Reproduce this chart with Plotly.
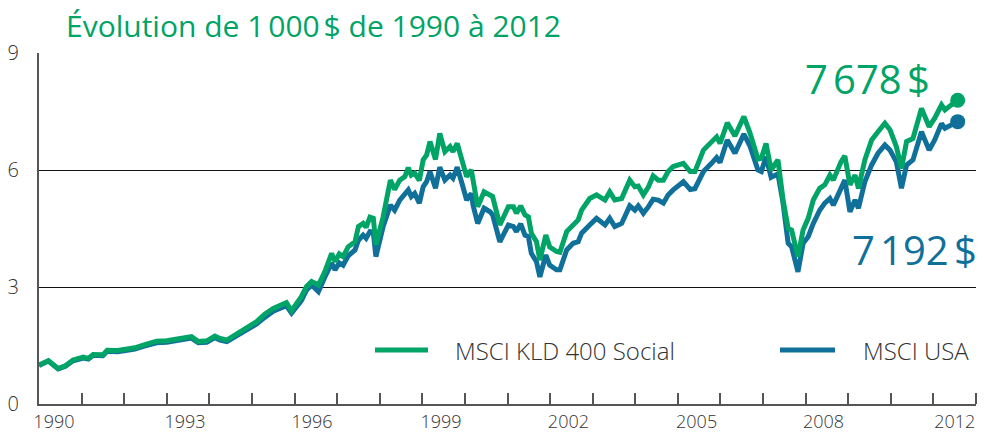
import plotly.graph_objects as go

# ---- data ----
t = [1990.00, 1990.22, 1990.45, 1990.62, 1990.80, 1991.04, 1991.16, 1991.27, 1991.50, 1991.60,
     1991.85, 1992.06, 1992.25, 1992.45, 1992.76, 1993.00, 1993.23, 1993.40, 1993.58, 1993.74,
     1993.94, 1994.13, 1994.25, 1994.41, 1994.72, 1994.90, 1995.11, 1995.30, 1995.50, 1995.81,
     1995.93, 1996.16, 1996.28, 1996.40, 1996.56, 1996.71, 1996.87, 1996.95, 1997.05, 1997.14,
     1997.26, 1997.42, 1997.50, 1997.61, 1997.68, 1997.77, 1997.85, 1997.91, 1998.08, 1998.25,
     1998.35, 1998.47, 1998.59, 1998.67, 1998.74, 1998.82, 1998.93, 1999.02, 1999.10, 1999.18,
     1999.31, 1999.41, 1999.53, 1999.65, 1999.72, 1999.82, 1999.92, 2000.04, 2000.15, 2000.19,
     2000.30, 2000.45, 2000.59, 2000.65, 2000.82, 2001.02, 2001.14, 2001.21, 2001.31, 2001.41,
     2001.49, 2001.56, 2001.68, 2001.76, 2001.90, 2001.99, 2002.15, 2002.23, 2002.39, 2002.54,
     2002.66, 2002.74, 2002.93, 2003.09, 2003.29, 2003.40, 2003.52, 2003.68, 2003.87, 2003.99,
     2004.07, 2004.19, 2004.31, 2004.42, 2004.54, 2004.66, 2004.77, 2004.89, 2005.13, 2005.29,
     2005.40, 2005.60, 2005.79, 2005.91, 2005.99, 2006.16, 2006.34, 2006.55, 2006.69, 2006.88,
     2006.96, 2007.07, 2007.19, 2007.35, 2007.47, 2007.59, 2007.67, 2007.82, 2007.94, 2008.06,
     2008.18, 2008.33, 2008.45, 2008.57, 2008.65, 2008.83, 2008.92, 2009.04, 2009.16, 2009.24,
     2009.39, 2009.55, 2009.70, 2009.86, 2009.98, 2010.13, 2010.25, 2010.37, 2010.52, 2010.72,
     2010.90, 2011.03, 2011.19, 2011.27, 2011.42, 2011.57]

kld = [1.00, 1.11, 0.91, 0.98, 1.13, 1.20, 1.17, 1.27, 1.26, 1.38,
       1.37, 1.40, 1.44, 1.51, 1.61, 1.62, 1.66, 1.69, 1.73, 1.60,
       1.62, 1.74, 1.68, 1.64, 1.85, 1.98, 2.11, 2.30, 2.45, 2.60,
       2.39, 2.75, 3.01, 3.14, 3.05, 3.39, 3.86, 3.65, 3.85, 3.78,
       4.03, 4.16, 4.55, 4.63, 4.53, 4.79, 4.76, 4.08, 4.80, 5.74,
       5.50, 5.74, 5.83, 6.06, 5.87, 5.92, 5.73, 6.26, 6.38, 6.73,
       6.27, 6.94, 6.47, 6.60, 6.47, 6.68, 6.30, 5.83, 6.00, 5.70,
       5.06, 5.44, 5.36, 5.32, 4.59, 5.06, 5.06, 4.89, 5.08, 4.85,
       4.80, 4.38, 4.16, 3.69, 4.33, 4.03, 3.91, 3.89, 4.42, 4.59,
       4.72, 4.97, 5.27, 5.36, 5.23, 5.44, 5.23, 5.27, 5.74, 5.57,
       5.59, 5.36, 5.57, 5.85, 5.74, 5.74, 5.96, 6.09, 6.17, 5.96,
       5.96, 6.51, 6.73, 6.85, 6.68, 7.21, 6.87, 7.37, 6.96, 6.28,
       6.30, 6.68, 6.00, 6.26, 5.23, 4.50, 4.46, 3.78, 4.46, 4.76,
       5.23, 5.53, 5.62, 5.87, 5.74, 6.21, 6.36, 5.62, 5.87, 5.53,
       6.26, 6.77, 6.98, 7.20, 7.03, 6.60, 6.04, 6.73, 6.81, 7.58,
       7.11, 7.33, 7.67, 7.54, 7.67, 7.79]

usa = [0.99, 1.10, 0.90, 0.97, 1.11, 1.18, 1.15, 1.25, 1.24, 1.35,
       1.34, 1.37, 1.41, 1.48, 1.57, 1.58, 1.62, 1.65, 1.69, 1.57,
       1.58, 1.70, 1.64, 1.60, 1.80, 1.93, 2.05, 2.22, 2.38, 2.52,
       2.33, 2.65, 2.92, 3.05, 2.88, 3.25, 3.61, 3.44, 3.62, 3.56,
       3.80, 3.95, 4.20, 4.33, 4.25, 4.42, 4.40, 3.78, 4.55, 5.10,
       4.97, 5.23, 5.36, 5.49, 5.32, 5.40, 5.15, 5.57, 5.70, 5.96,
       5.53, 6.07, 5.74, 5.87, 5.79, 6.07, 5.70, 5.23, 5.40, 5.10,
       4.63, 5.02, 4.93, 4.85, 4.16, 4.59, 4.55, 4.42, 4.62, 4.33,
       4.29, 3.86, 3.65, 3.26, 3.82, 3.56, 3.44, 3.44, 3.95, 4.12,
       4.16, 4.38, 4.59, 4.76, 4.59, 4.76, 4.55, 4.63, 5.08, 4.97,
       5.08, 4.89, 5.06, 5.25, 5.23, 5.15, 5.36, 5.49, 5.70, 5.50,
       5.52, 5.96, 6.17, 6.32, 6.19, 6.77, 6.43, 6.92, 6.62, 6.00,
       5.96, 6.34, 5.81, 5.90, 5.15, 4.12, 4.03, 3.39, 4.12, 4.29,
       4.63, 4.97, 5.15, 5.27, 5.10, 5.57, 5.74, 4.93, 5.23, 5.02,
       5.70, 6.13, 6.43, 6.64, 6.51, 6.21, 5.53, 6.13, 6.26, 6.98,
       6.51, 6.77, 7.19, 7.07, 7.15, 7.24]

series_names = ["MSCI KLD 400 Social", "MSCI USA"]
end_labels = ["7\u202f678\u202f$", "7\u202f192\u202f$"]
title_text = "Évolution de 1\u202f000\u202f$ de 1990 à 2012"

year_ticks = list(range(1991, 2013))
year_label_pos = [1990.35, 1993.43, 1996.41, 1999.44, 2002.43, 2005.44, 2008.42, 2011.50]
year_label_text = ["1990", "1993", "1996", "1999", "2002", "2005", "2008", "2012"]
y_ticks = [0, 3, 6, 9]
y_grid = [3, 6]

GREEN = "#00A466"
BLUE = "#10709A"
FONT = "Open Sans"
TXT = "#333333"
AX = "#555555"

fig = go.Figure()

# MSCI USA (drawn below)
fig.add_trace(go.Scatter(x=t, y=usa, mode="lines", name=series_names[1],
                         line=dict(color=BLUE, width=5), showlegend=False))
# MSCI KLD 400 Social (on top)
fig.add_trace(go.Scatter(x=t, y=kld, mode="lines", name=series_names[0],
                         line=dict(color=GREEN, width=5), showlegend=False))
# end-point dots
fig.add_trace(go.Scatter(x=[t[-1]], y=[usa[-1]], mode="markers", showlegend=False,
                         marker=dict(size=15, color=BLUE, opacity=1, line=dict(width=0))))
fig.add_trace(go.Scatter(x=[t[-1]], y=[kld[-1]], mode="markers", showlegend=False,
                         marker=dict(size=15, color=GREEN, opacity=1, line=dict(width=0))))
# invisible trace to activate gridline axis
fig.add_trace(go.Scatter(x=[t[0]], y=[kld[0]], mode="markers", marker=dict(size=1, opacity=0),
                         showlegend=False, hoverinfo="skip", yaxis="y2"))

fig.update_layout(
    width=986, height=435,
    margin=dict(l=39, r=10, t=53, b=31),
    paper_bgcolor="white", plot_bgcolor="white",
    font=dict(family=FONT, color=TXT),
    title=dict(text=title_text, font=dict(family=FONT, size=30, color=GREEN, weight=400),
               xref="container", yref="container", x=66 / 986, xanchor="left",
               y=1 - 26 / 435, yanchor="middle"),
    xaxis=dict(range=[1990, 2012], showgrid=False, zeroline=False, automargin=False,
               showline=True, linecolor=AX, linewidth=2,
               tickmode="array", tickvals=year_label_pos, ticktext=year_label_text,
               ticks="", ticklen=0, tickfont=dict(size=18, color=TXT, weight=300),
               minor=dict(tickmode="array", tickvals=year_ticks, ticks="inside",
                          ticklen=11, tickwidth=1.5, tickcolor=AX, showgrid=False)),
    yaxis=dict(range=[0, 9], showgrid=False, zeroline=False, automargin=False,
               showline=True, linecolor=AX, linewidth=2,
               tickmode="array", tickvals=y_ticks, ticks="",
               tickfont=dict(size=20, color=TXT, weight=300), ticklabelstandoff=14),
    yaxis2=dict(range=[0, 9], overlaying="y", showgrid=True, gridcolor="#111111",
                gridwidth=1, tickmode="array", tickvals=y_grid, showticklabels=False,
                zeroline=False, showline=False, ticks="", automargin=False),
    showlegend=False,
)

# end value labels
fig.add_annotation(xref="paper", yref="paper", x=(932 - 39) / 937, y=(404 - 78) / 351,
                   xanchor="right", yanchor="middle", text=end_labels[0], showarrow=False,
                   font=dict(family=FONT, size=40, color=GREEN, weight=400))
fig.add_annotation(xref="paper", yref="paper", x=(979 - 39) / 937, y=(404 - 250) / 351,
                   xanchor="right", yanchor="middle", text=end_labels[1], showarrow=False,
                   font=dict(family=FONT, size=40, color=BLUE, weight=400))

# custom legend
leg_y = (404 - 350) / 351
for name, col, x0, x1, xt in [(series_names[0], GREEN, 375, 428, 453),
                               (series_names[1], BLUE, 780, 835, 861)]:
    fig.add_shape(type="line", xref="paper", yref="paper",
                  x0=(x0 - 39) / 937, x1=(x1 - 39) / 937, y0=leg_y, y1=leg_y,
                  line=dict(color=col, width=5))
    fig.add_annotation(xref="paper", yref="paper", x=(xt - 39) / 937, y=leg_y,
                       xanchor="left", yanchor="middle", text=name, showarrow=False,
                       font=dict(family=FONT, size=24, color=TXT, weight=300))

fig.write_html("out.html", config={"displayModeBar": False},
               post_script="document.body.style.margin='0';document.body.style.overflow='hidden';")
